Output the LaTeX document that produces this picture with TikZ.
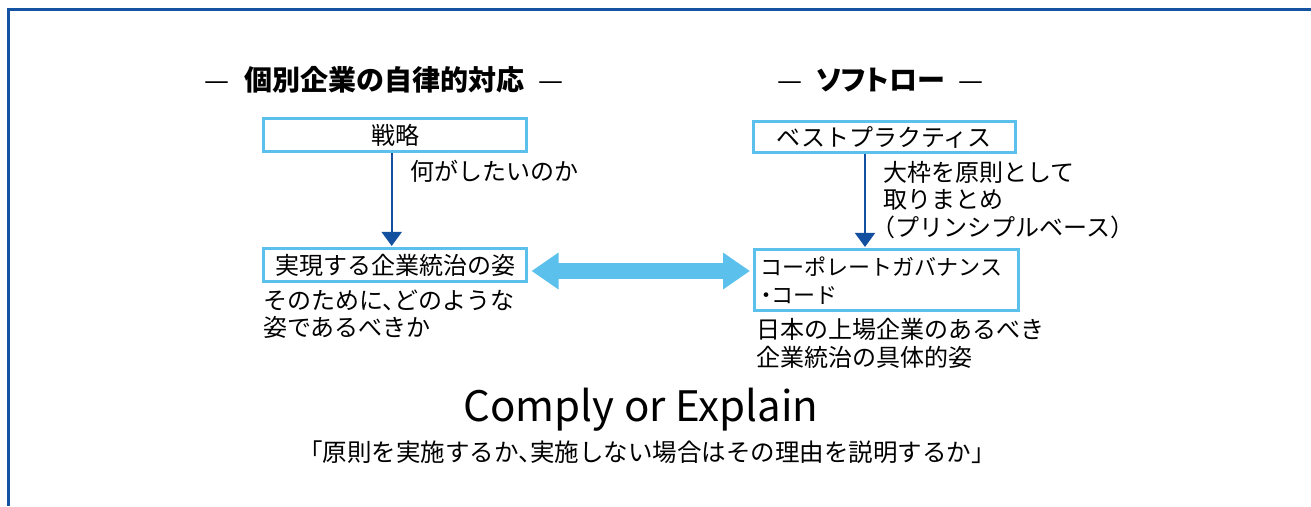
\documentclass[tikz,border=0pt]{standalone}
\usepackage{fontspec}
\setmainfont{Noto Sans CJK JP}[RawFeature=+halt]
\usetikzlibrary{arrows.meta}
\definecolor{frameblue}{RGB}{20,82,162}
\definecolor{boxblue}{RGB}{91,193,236}
\definecolor{flowblue}{RGB}{20,80,160}
\newcommand{\bodyfont}{\fontsize{24}{27.5}\selectfont}
\newcommand{\propkana}{\addfontfeatures{RawFeature=+palt}}
\begin{document}
\begin{tikzpicture}[x=1pt,y=-1pt,
  box/.style={draw=boxblue, line width=3pt, fill=white, inner sep=0pt, font=\bodyfont},
  body/.style={font=\bodyfont, inner sep=0pt, align=left},
  heading/.style={font=\fontsize{28}{32}\selectfont, inner sep=0pt},
  flow/.style={draw=flowblue, line width=2pt, shorten >=1.5pt, -{Triangle[width=20pt,length=14pt]}},
  bothway/.style={draw=boxblue, line width=16pt, {Triangle[width=35pt,length=27pt]}-{Triangle[width=35pt,length=27pt]}}
]
\useasboundingbox (0,0) rectangle (1311,506);
% frame
\draw[frameblue, line width=3pt] (8.5,506) -- (8.5,9.5) -- (1311,9.5);

% headings
\node[heading] (h1) at (384,80) {—\hspace{15pt}\textbf{個別企業の自律的対応}\hspace{14pt}—};
\node[heading] (h2) at (880.5,80) {—\hspace{13pt}{\propkana\textbf{ソフトロー}}\hspace{13pt}—};

% left column
\node[box, minimum width=263.4, minimum height=32.7] (strat) at (395,135.3) {戦略};
\node[box, minimum width=263.4, minimum height=32.7] (goal) at (395,265.3) {実現する企業統治の姿};
\node[body, anchor=west] (q1) at (410,171.7) {何がしたいのか};
\node[body, anchor=west] (q2) at (263,314.3) {そのために、どのような\\姿であるべきか};

% right column
\node[box, minimum width=261.3, minimum height=30.6] (best) at (884.4,137) {ベストプラクティス};
\node[box, minimum width=264, minimum height=60.7, text width=252, inner xsep=6pt, align=left, font=\fontsize{22}{28.3}\selectfont] (cgc) at (886.5,280.3) {コーポレートガバナンス\\・コード};
\node[body, anchor=west] (p1) at (883,200) {大枠を原則として\\取りまとめ\\（プリンシプルベース）};
\node[body, anchor=west] (p2) at (756.7,343.4) {日本の上場企業のあるべき\\企業統治の具体的姿};

% connectors
\draw[flow] (strat.south -| 391.7,0) -- (goal.north -| 391.7,0);
\draw[flow] (best.south -| 865,0) -- (cgc.north -| 865,0);
\coordinate (dl) at ([xshift=3.3pt]goal.east);
\coordinate (dr) at ([xshift=-3pt]cgc.west);
\draw[bothway] (dl |- 0,271) -- (dr |- 0,271);

% bottom
\node[font=\fontsize{42}{48}\selectfont, inner sep=0pt] (ce) at (641,410) {Comply or Explain};
\node[font=\fontsize{24.5}{28}\selectfont, inner sep=0pt] (sub) at (647,452) {「原則を実施するか、実施しない場合はその理由を説明するか」};
\end{tikzpicture}
\end{document}
